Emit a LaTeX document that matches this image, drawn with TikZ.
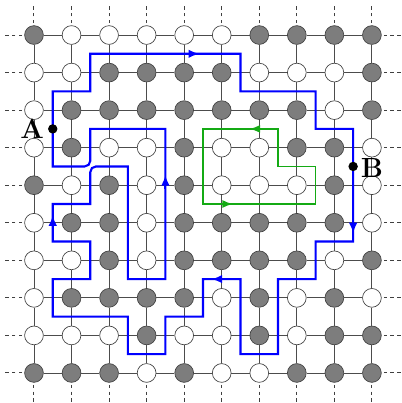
\documentclass[tikz,border=0pt]{standalone}
\usetikzlibrary{arrows.meta}
\definecolor{gw}{RGB}{20,170,20}
\definecolor{sitegray}{RGB}{125,125,125}
\begin{document}
\begin{tikzpicture}[
  site/.style={circle, draw=black!75, line width=0.5pt, minimum size=0.5cm, inner sep=0pt},
  upsite/.style={site, fill=white},
  dnsite/.style={site, fill=sitegray},
  bond/.style={draw=black!70, line width=0.7pt},
  stub/.style={draw=black!75, line width=0.75pt, dash pattern=on 2.6pt off 2.4pt},
  wall/.style={draw=blue, line width=1.6pt},
  gwall/.style={draw=gw, line width=1.3pt},
  barr/.style={wall, -{Latex[length=8pt,width=6.5pt]}},
  garr/.style={gwall, -{Latex[length=8pt,width=6pt]}},
  dot/.style={circle, fill=black, inner sep=0pt, minimum size=0.25cm},
  lbl/.style={inner sep=0pt, font=\fontsize{21}{21}\selectfont\bfseries}
]
\useasboundingbox (-0.905,0.933) rectangle (9.775,-9.8);
% sites
\foreach \row [count=\j from 0] in {
  {1,0,0,0,0,0,1,1,1,1},
  {0,0,1,1,1,1,0,0,0,1},
  {0,1,1,1,1,1,1,1,0,1},
  {0,1,0,0,1,0,0,1,1,0},
  {1,0,1,0,1,0,0,0,1,0},
  {0,1,1,0,1,1,1,1,1,0},
  {0,0,1,0,1,1,1,1,0,1},
  {0,1,1,1,1,0,1,0,1,0},
  {0,0,0,1,0,0,1,0,1,1},
  {1,1,1,0,1,0,0,1,1,1}} {
  \foreach \v [count=\i from 0] in \row {
    \ifnum\v=1 \def\st{dnsite}\else\def\st{upsite}\fi
    \node[\st] (c-\i-\j) at (\i,-\j) {};
  }
}
% bonds
\foreach \i in {0,...,9} {
  \foreach \j [evaluate=\j as \jj using int(\j+1)] in {0,...,8} {
    \draw[bond] (c-\i-\j) -- (c-\i-\jj);
    \draw[bond] (c-\j-\i) -- (c-\jj-\i);
  }
}
% dashed stubs
\foreach \k in {0,...,9} {
  \draw[stub] (c-0-\k.west) ++(-0.06,0) -- ++(-0.45,0);
  \draw[stub] (c-9-\k.east) ++(0.06,0) -- ++(0.45,0);
  \draw[stub] (c-\k-0.north) ++(0,0.06) -- ++(0,0.45);
  \draw[stub] (c-\k-9.south) ++(0,-0.06) -- ++(0,-0.45);
}
% blue domain wall
\draw[wall] (1.5,-0.5) -- (5.5,-0.5) -- (5.5,-1.5) -- (7.5,-1.5) -- (7.5,-2.5)
  -- (8.5,-2.5) -- (8.5,-5.5) -- (7.5,-5.5) -- (7.5,-6.5) -- (6.5,-6.5)
  -- (6.5,-8.5) -- (5.5,-8.5) -- (5.5,-6.5) -- (4.5,-6.5) -- (4.5,-7.5)
  -- (3.5,-7.5) -- (3.5,-8.5) -- (2.5,-8.5) -- (2.5,-7.5) -- (0.5,-7.5)
  -- (0.5,-6.5) -- (1.5,-6.5) -- (1.5,-5.5) -- (0.5,-5.5) -- (0.5,-4.5)
  -- (1.5,-4.5) -- (1.5,-3.65) arc[start angle=180, end angle=90, radius=0.15]
  -- (2.5,-3.5) -- (2.5,-6.5) -- (3.5,-6.5) -- (3.5,-2.5) -- (1.5,-2.5)
  -- (1.5,-3.35) arc[start angle=0, end angle=-90, radius=0.15]
  -- (0.5,-3.5) -- (0.5,-1.5) -- (1.5,-1.5) -- cycle;
\draw[barr] (4.0,-0.5) -- (4.4,-0.5);
\draw[barr] (8.5,-4.9) -- (8.5,-5.28);
\draw[barr] (5.1,-6.5) -- (4.73,-6.5);
\draw[barr] (0.5,-5.15) -- (0.5,-4.8);
\draw[barr] (3.5,-4.1) -- (3.5,-3.73);
% green domain wall
\draw[gwall] (4.5,-2.5) -- (6.5,-2.5) -- (6.5,-3.5) -- (7.5,-3.5) -- (7.5,-4.5)
  -- (4.5,-4.5) -- cycle;
\draw[garr] (6.1,-2.5) -- (5.74,-2.5);
\draw[garr] (4.9,-4.5) -- (5.3,-4.5);
% end points
\node[dot] (pA) at (0.5,-2.5) {};
\node[dot] (pB) at (8.5,-3.5) {};
\node[lbl] (lA) at (-0.05,-2.51) {A};
\node[lbl] (lB) at (9.0,-3.53) {B};
\end{tikzpicture}
\end{document}
